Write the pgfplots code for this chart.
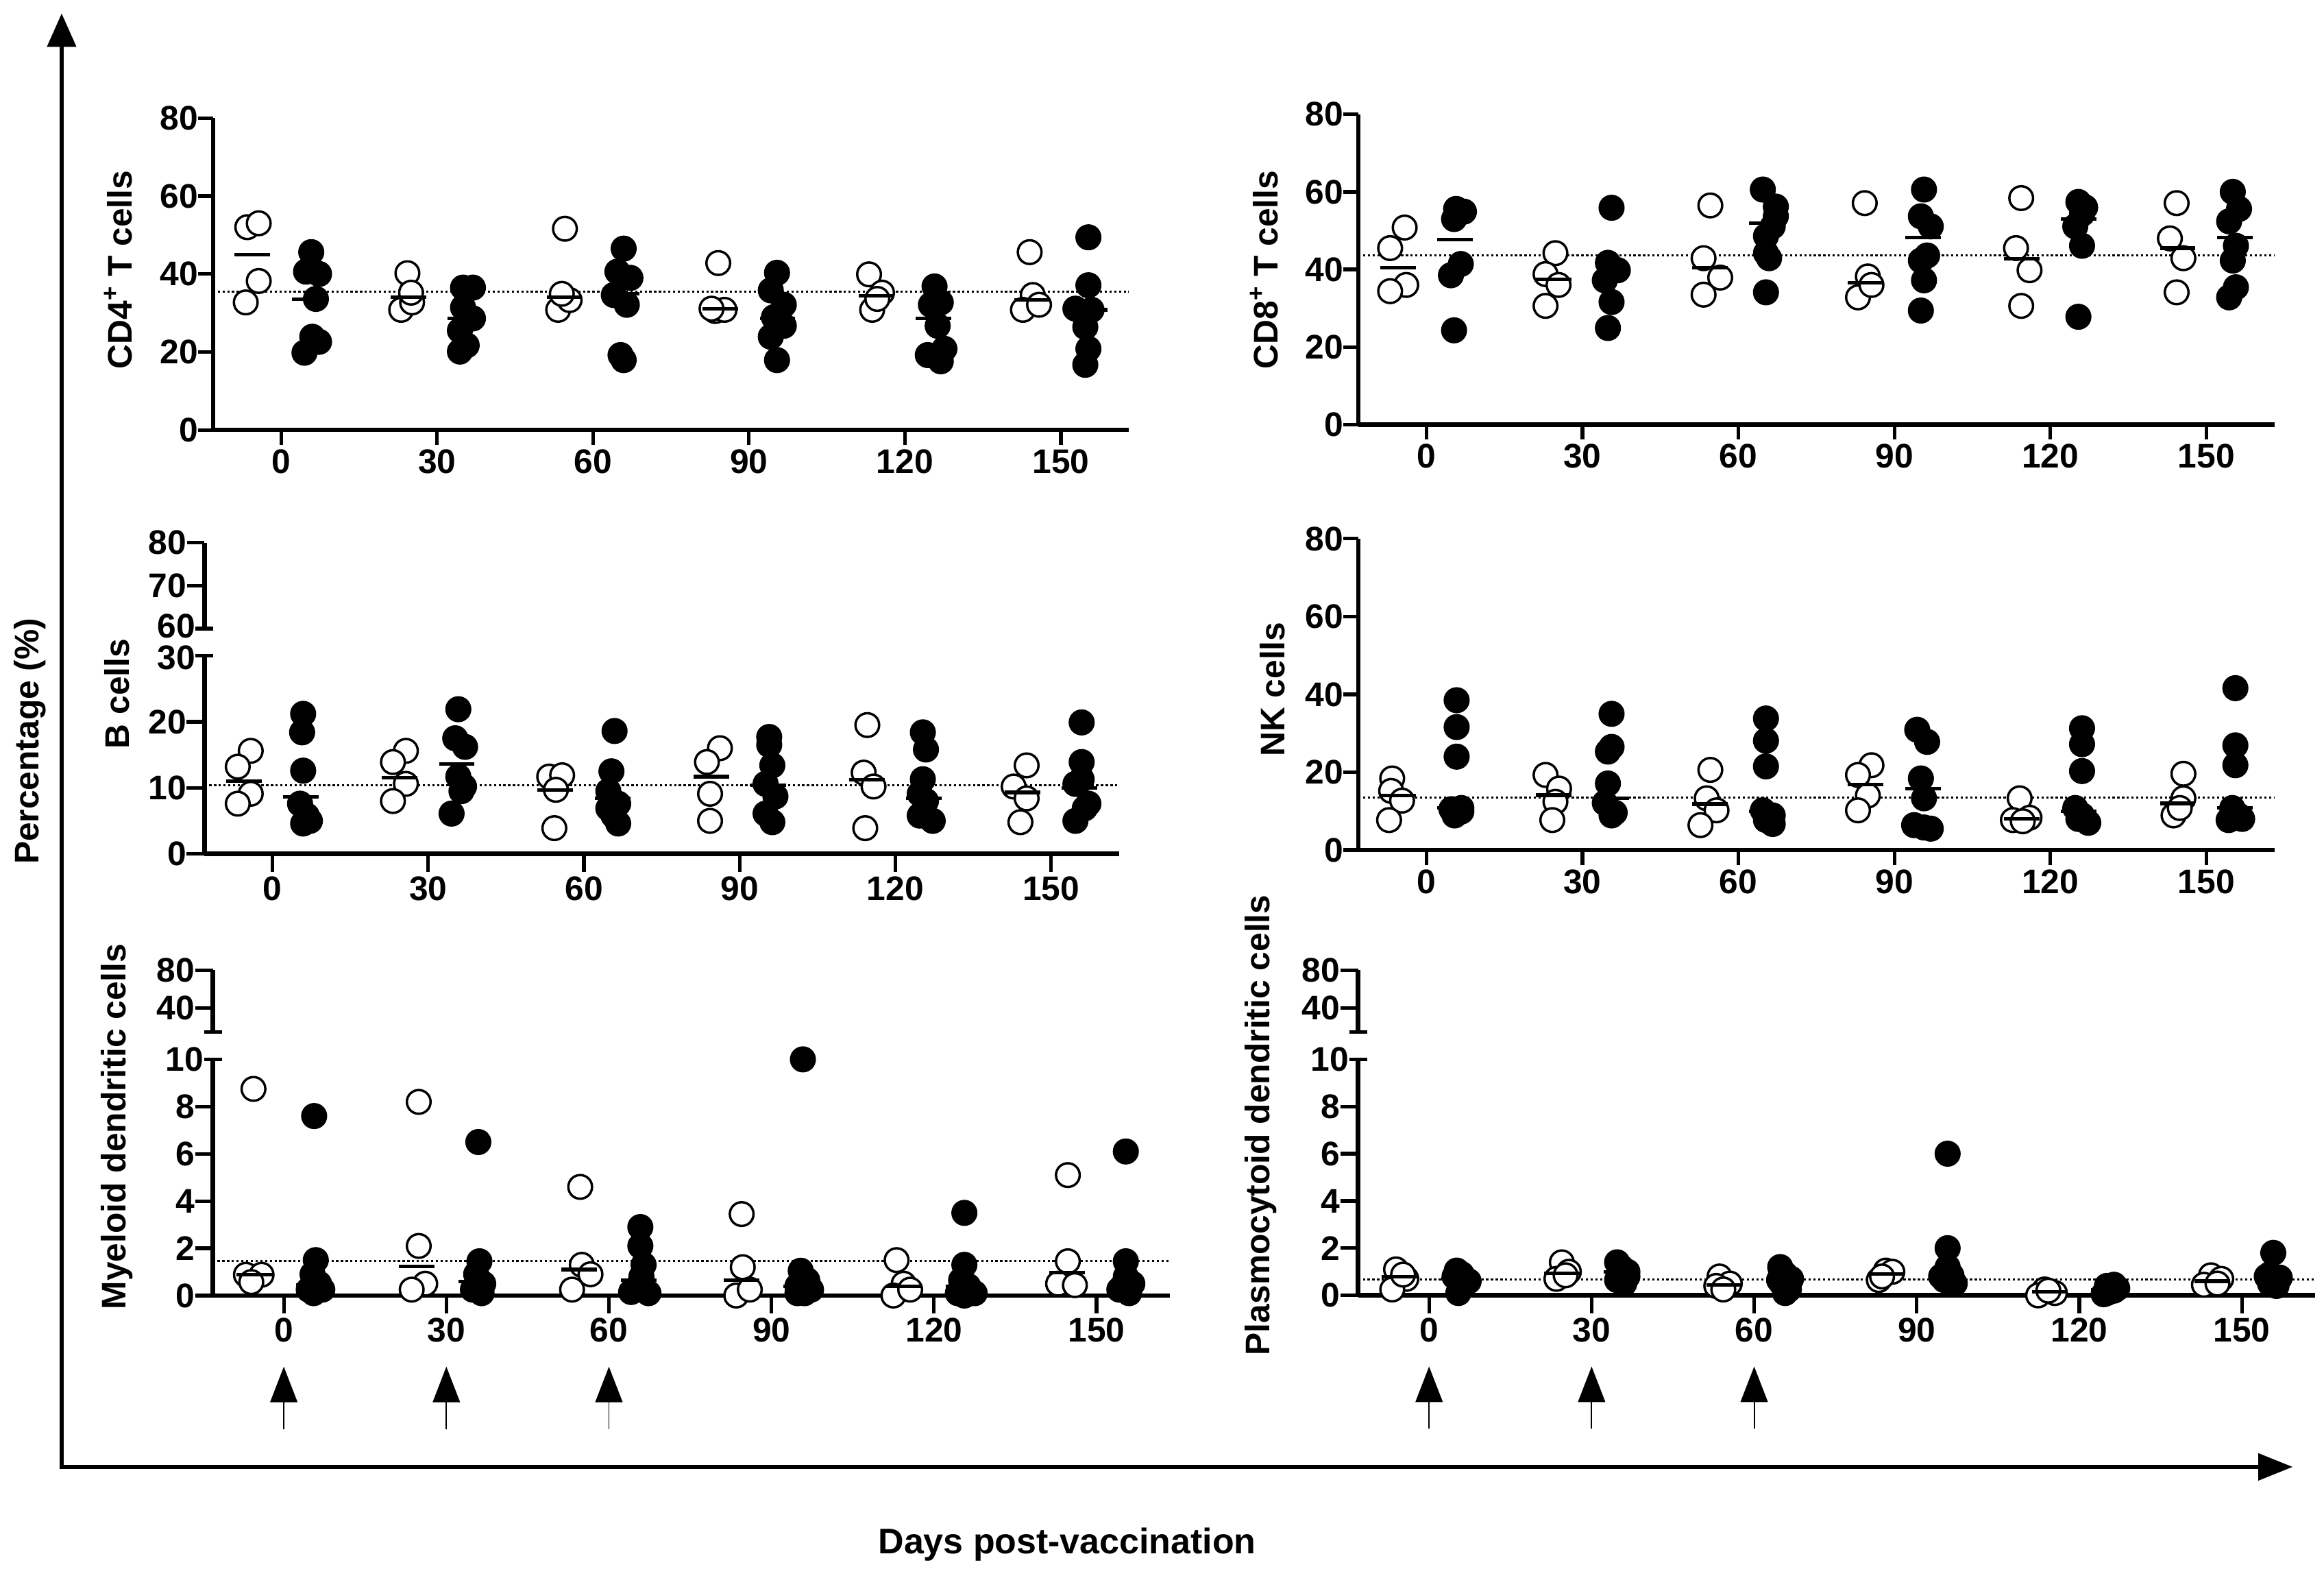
\documentclass[border=0pt]{standalone}
\usepackage{fontspec}
\setmainfont{Liberation Sans}
\usepackage{pgfplots}
\pgfplotsset{compat=1.18}
\newcommand\tfont{\fontsize{23}{26}\selectfont\bfseries}
\newcommand\lfont{\fontsize{23}{26}\selectfont\bfseries}
\pgfplotsset{
 gp/.style={
  scale only axis, clip=false, anchor=south west,
  axis x line*=bottom, axis y line*=left,
  axis line style={-, line width=3pt, black},
  tick style={line width=2.4pt, black},
  major tick length=10pt, tick align=outside,
  tick label style={font=\tfont},
  /pgf/number format/assume math mode=true,
  xmin=-13.1, xmax=163.1,
  xtick={0,30,60,90,120,150},
  xticklabel style={anchor=north, inner sep=0pt, yshift=-3pt},
  yticklabel style={anchor=east, inner sep=0pt},
  extra y tick style={tick align=center, major tick length=12pt},
 },
 up/.style={
  scale only axis, clip=false, anchor=south west,
  hide x axis, axis y line*=left,
  axis line style={-, line width=3pt, black},
  tick style={line width=2.4pt, black},
  major tick length=12pt, tick align=outside,
  tick label style={font=\tfont},
  /pgf/number format/assume math mode=true,
  xmin=0, xmax=1,
  yticklabel style={anchor=east, inner sep=0pt},
  extra y tick style={tick align=center, major tick length=12pt},
 },
 wpt/.style={only marks, mark=*, mark size=8pt, mark options={fill=white, draw=black, line width=1.6pt}},
 bpt/.style={only marks, mark=*, mark size=8pt, mark options={fill=black, draw=black, line width=1.6pt}},
 med/.style={only marks, mark=-, mark size=12pt, mark options={line width=2.4pt, draw=black}},
 refl/.style={black, line width=1.5pt, dash pattern=on 1.5pt off 1.7pt},
}
\newcommand\vacarrow[1]{%
 \fill ([yshift=-48pt]axis cs:#1,0) -- ++(-9.3pt,-24pt) -- ++(18.6pt,0pt) -- cycle;
 \draw[line width=0.9pt] ([yshift=-70pt]axis cs:#1,0) -- ([yshift=-90pt]axis cs:#1,0);}
\begin{document}
\begin{tikzpicture}
\useasboundingbox (0,0) rectangle (1568pt,-1064pt);
% big frame arrows
\draw[line width=2.7pt] (41.6pt,-989.5pt) -- (41.6pt,-30pt);
\fill (41.6pt,-9.2pt) -- (31.6pt,-31.6pt) -- (51.6pt,-31.6pt) -- cycle;
\draw[line width=2.7pt] (40.3pt,-989.5pt) -- (1525pt,-989.5pt);
\fill (1546.7pt,-989.5pt) -- (1523.6pt,-980.2pt) -- (1523.6pt,-998.8pt) -- cycle;
\node[rotate=90, anchor=base, font=\lfont] at (26pt,-500pt) {Percentage (\%)};
\node[anchor=base, font=\fontsize{24}{27}\selectfont\bfseries] at (720pt,-1048pt) {Days post-vaccination};

% ---------------- A: CD4
\begin{axis}[gp, at={(143.7pt,-290pt)}, width=618pt, height=210.4pt, ymin=0, ymax=80, ytick={0,20,40,60,80}]
\addplot[refl] coordinates {(-13.1,35.5) (163.1,35.5)};
\addplot[wpt] coordinates {(-6.5,52) (-4.3,53) (-4.3,38.2) (-6.8,32.7)
 (24.3,40.2) (23.1,30.8) (25.2,32.7) (25,35.2)
 (54.6,51.6) (53.3,30.8) (55.5,33.3) (54,34.9)
 (84.1,42.8) (83.5,30.5) (85.3,30.8) (82.8,31.1)
 (113.1,39.9) (115.6,35.2) (113.7,30.8) (114.7,33.6)
 (144,45.6) (144.6,34.6) (142.7,30.8) (145.8,32.1)};
\addplot[bpt] coordinates {(5.8,45.6) (4.8,40.6) (7.3,40) (6.7,33.6) (6,23.9) (7.3,22.6) (4.5,19.8)
 (35,36.5) (36.9,36.5) (35,31.4) (36.9,28.6) (34.4,25.5) (35.7,21.7) (34.4,20.1)
 (65.9,46.5) (64.7,40.6) (67.2,39) (64,34.6) (66.5,32.1) (65.3,19.2) (65.9,17.9)
 (95.4,40.3) (94.2,35.8) (96.7,32.1) (94.8,28.9) (96.7,26.7) (94.2,23.9) (95.4,17.9)
 (125.7,36.8) (126.9,32.7) (125,32.1) (126.3,26.7) (127.6,20.8) (124.4,19.2) (126.9,17.6)
 (155.3,49.4) (155.3,37.1) (155.9,30.8) (152.8,31.1) (154.7,26.4) (155.3,20.8) (154.7,16.7)};
\addplot[med] coordinates {(-5.5,45) (24.5,34) (54.5,34.1) (84.5,31) (114.5,34.4) (144.5,33.3)
 (5.5,33.5) (35.5,28.6) (65.5,35) (95.5,28.6) (125.5,28.6) (155.5,30.8)};
\end{axis}
\node[rotate=90, anchor=base, font=\lfont] at (89pt,-182pt) {CD4\textsuperscript{+} T cells};

% ---------------- B: CD8
\begin{axis}[gp, at={(916.5pt,-286.4pt)}, width=618pt, height=209.3pt, ymin=0, ymax=80, ytick={0,20,40,60,80}]
\addplot[refl] coordinates {(-13.1,43.6) (163.1,43.6)};
\addplot[wpt] coordinates {(-4.2,50.8) (-7,45.5) (-3.9,36) (-7,34.4)
 (24.8,44.2) (22.9,38.8) (25.4,36) (22.9,30.6)
 (54.6,56.5) (53.3,42.9) (56.5,37.9) (53.3,33.5)
 (84.3,57.1) (84.9,38.2) (83,32.8) (85.6,36)
 (114.4,58.4) (113.4,45.5) (116,39.8) (114.4,30.6)
 (144.3,57.1) (143,48) (145.6,42.9) (144.3,34.1)};
\addplot[bpt] coordinates {(5.7,55.6) (7.2,54.9) (5.3,53) (6.6,41.4) (4.7,38.5) (5.3,24.3)
 (35.6,55.9) (34.9,41.7) (36.8,39.8) (34.3,37.2) (35.6,31.6) (34.9,24.9)
 (64.7,60.6) (67.2,56.2) (67.2,53.7) (66.6,51.1) (65.3,48.6) (65.3,44.2) (65.9,42.9) (65.3,34.1)
 (95.7,60.6) (95.1,53.7) (97,51.1) (96.3,43.6) (95.1,42.3) (95.7,37.2) (95.1,29.4)
 (125.4,57.4) (126.1,54.3) (124.8,51.1) (126.1,46.1) (125.4,27.8) (126.7,56)
 (155.1,60) (156.3,55.6) (154.4,52.4) (155.7,46.1) (155.1,42.3) (155.7,35.4) (154.4,32.8)};
\addplot[med] coordinates {(-5.5,40.4) (24.5,37.4) (54.5,40.4) (84.5,36.6) (114.5,42.7) (144.5,45.5)
 (5.5,47.7) (35.5,38.5) (65.5,51.9) (95.5,48.3) (125.5,53) (155.5,48.3)};
\end{axis}
\node[rotate=90, anchor=base, font=\lfont] at (862pt,-182pt) {CD8\textsuperscript{+} T cells};

% ---------------- C: B cells
\begin{axis}[up, at={(138pt,-424pt)}, width=617pt, height=58pt, ymin=60, ymax=80, ytick={70,80}, extra y ticks={60}, extra y tick style={tick label style={yshift=1.5pt}}]
\addplot[draw=none] coordinates {(0.5,70)};
\end{axis}
\begin{axis}[gp, at={(138pt,-576pt)}, width=617pt, height=133.7pt, ymin=0, ymax=30, ytick={0,10,20}, extra y ticks={30}, extra y tick style={tick label style={yshift=-1.5pt}}, major tick length=12pt]
\addplot[refl] coordinates {(-13.1,10.4) (163.1,10.4)};
\addplot[wpt] coordinates {(-4.2,15.6) (-6.7,13.2) (-4.2,9.1) (-6.7,7.6)
 (25.7,15.6) (23.2,13.9) (25.7,10.6) (23.2,8)
 (53.3,11.7) (55.8,11.9) (54.6,9.7) (54.3,3.9)
 (86.2,16) (83.7,13.9) (84.3,9.1) (84.3,5)
 (114.6,19.5) (113.9,12.3) (115.8,10.2) (114.2,3.9)
 (145.3,13.4) (142.8,10.2) (145.3,8.4) (144.1,4.8)};
\addplot[bpt] coordinates {(5.9,21.2) (5.7,18.4) (5.9,12.6) (5.3,7.6) (6.6,5.8) (5.9,4.6) (7.2,5)
 (35.8,21.9) (35.2,17.5) (37.1,16.2) (35.8,11.7) (36.4,9.5) (34.5,6.1) (36.9,10.2)
 (65.9,18.6) (65.3,12.5) (64.7,9.5) (66.6,7.6) (64.7,6.9) (66.6,4.6) (65.7,5.8)
 (95.7,17.7) (95.7,16.5) (96.3,13.4) (95,10.6) (96.9,8.7) (95,6.1) (96.3,4.8)
 (125.3,18.4) (125.9,15.8) (125.3,11.3) (124.7,9.1) (125.9,8) (124.7,5.8) (127.2,5)
 (155.9,19.9) (155.9,13.9) (155.9,11.3) (154.7,10.6) (157.2,7.6) (154.7,5) (156.5,6.9)};
\addplot[med] coordinates {(-5.5,11) (24.5,11.5) (54.5,9.7) (84.5,11.7) (114.5,11.2) (144.5,9.3)
 (5.5,8.6) (35.5,13.6) (65.5,8.4) (95.5,10.4) (125.5,8.4) (155.5,10)};
\end{axis}
\node[rotate=90, anchor=base, font=\lfont] at (87pt,-468pt) {B cells};

% ---------------- D: NK cells
\begin{axis}[gp, at={(916.5pt,-573.4pt)}, width=618pt, height=210pt, ymin=0, ymax=80, ytick={0,20,40,60,80}]
\addplot[refl] coordinates {(-13.1,13.5) (163.1,13.5)};
\addplot[wpt] coordinates {(-6.6,18.4) (-6.8,15.2) (-4.7,12.7) (-7.2,7.7)
 (22.9,19.3) (25.5,15.8) (24.8,12.4) (24.2,7.7)
 (54.6,20.6) (53.9,13.3) (55.8,10.2) (52.7,6.4)
 (85.6,21.8) (83,19.3) (84.9,14) (83,10.2)
 (114.1,13.3) (112.8,7.7) (116,8.3) (114.7,7.4)
 (145.6,19.6) (145.6,13.3) (143.7,8.9) (144.9,10.8)};
\addplot[bpt] coordinates {(5.8,38.5) (5.8,31.6) (5.8,24) (4.8,10.5) (6.7,9.9) (5.4,8.9) (6.7,10.8)
 (35.6,35) (35.6,26.5) (34.9,25.3) (34.9,17.1) (34.3,12.1) (36.2,9.6) (35.6,8.9)
 (65.3,33.8) (65.3,28.1) (65.3,21.5) (64.7,10.2) (66.6,8.9) (66.6,6.7) (65.3,7.7)
 (94.4,30.9) (96.3,27.8) (95.1,18.4) (95.7,13.3) (93.8,6.4) (95.7,5.8) (97,5.5)
 (126.1,31.3) (126.1,27.2) (126.1,20.3) (124.8,10.8) (126.1,8.9) (127.3,7) (125.4,8)
 (155.6,41.6) (155.6,26.9) (155.6,21.8) (155,10.8) (156.2,8.9) (154.3,7.7) (156.9,8)};
\addplot[med] coordinates {(-5.5,14) (24.5,14.1) (54.5,11.8) (84.5,16.8) (114.5,8) (144.5,12)
 (5.5,10.8) (35.5,13.3) (65.5,9.9) (95.5,15.8) (125.5,9.9) (155.5,10.8)};
\end{axis}
\node[rotate=90, anchor=base, font=\lfont] at (866.6pt,-465pt) {NK cells};

% ---------------- E: Myeloid DC
\begin{axis}[up, at={(143.6pt,-696pt)}, width=645.6pt, height=41.5pt, ymin=15, ymax=80, ytick={40,80}, extra y ticks={15}, extra y tick labels={}]
\addplot[draw=none] coordinates {(0.5,40)};
\end{axis}
\begin{axis}[gp, at={(143.6pt,-873.9pt)}, width=645.6pt, height=159.3pt, xmax=163.5, ymin=0, ymax=10, ytick={0,2,4,6,8}, extra y ticks={10}, major tick length=12pt]
\addplot[refl] coordinates {(-13.1,1.47) (163.5,1.47)};
\addplot[wpt] coordinates {(-5.6,8.75) (-7,0.88) (-4.1,0.88) (-6,0.57)
 (24.9,8.2) (24.9,2.1) (26.1,0.5) (23.6,0.25)
 (54.7,4.6) (55,1.3) (56.6,0.9) (53.2,0.25)
 (84.5,3.45) (84.7,1.2) (83.5,0) (86,0.25)
 (113.1,1.5) (114.4,0.5) (112.5,0) (115.6,0.25)
 (144.7,5.1) (144.7,1.45) (142.9,0.5) (146,0.44)};
\addplot[bpt] coordinates {(5.6,7.6) (5.9,1.5) (5.3,0.9) (6.5,0.5) (4.6,0.25) (7.1,0.25) (5.5,0.1)
 (35.9,6.5) (36.1,1.45) (35.5,0.9) (36.8,0.5) (34.9,0.25) (36.5,0.1) (35.5,0.37)
 (65.8,2.9) (65.8,2.1) (66.4,1.3) (66,0.8) (65.4,0.4) (67.3,0.1) (64.1,0.15)
 (95.8,10) (95.4,1.05) (96.6,0.65) (94.8,0.4) (97.3,0.25) (96.1,0.1) (94.8,0.1)
 (125.6,3.5) (125.6,1.3) (125,0.65) (126.3,0.4) (124.4,0.1) (127.5,0.1) (125.6,0)
 (155.4,6.1) (155.4,1.45) (155.4,0.8) (154.8,0.4) (156,0.1) (154.2,0.25) (156.6,0.5)};
\addplot[med] coordinates {(-5.5,0.88) (24.5,1.24) (54.5,1.1) (84.5,0.64) (114.5,0.38) (144.5,0.97)
 (5.5,0.44) (35.5,0.6) (65.5,0.64) (95.5,0.4) (125.5,0.4) (155.5,0.5)};
\vacarrow{0}
\vacarrow{30}
\vacarrow{60}
\end{axis}
\node[rotate=90, anchor=base, font=\lfont] at (85pt,-760pt) {Myeloid dendritic cells};

% ---------------- F: Plasmacytoid DC
\begin{axis}[up, at={(916.3pt,-696pt)}, width=645.6pt, height=41.5pt, ymin=15, ymax=80, ytick={40,80}, extra y ticks={15}, extra y tick labels={}]
\addplot[draw=none] coordinates {(0.5,40)};
\end{axis}
\begin{axis}[gp, at={(916.3pt,-873.8pt)}, width=645.6pt, height=159.3pt, xmax=163.5, ymin=0, ymax=10, ytick={0,2,4,6,8}, extra y ticks={10}, major tick length=12pt]
\addplot[refl] coordinates {(-13.1,0.67) (163.5,0.67)};
\addplot[wpt] coordinates {(-6.1,1.1) (-4.2,0.7) (-6.8,0.25) (-4.8,0.88)
 (24.5,1.4) (25.8,1) (23.5,0.7) (25.2,0.85)
 (53.6,0.8) (55.5,0.5) (53,0.4) (54.3,0.25)
 (84.3,1.05) (85.5,1) (83,0.65) (83.6,0.8)
 (113.6,0.25) (115.5,0.1) (112.4,0) (114.3,0.2)
 (144.3,0.85) (146.2,0.7) (143,0.45) (145.5,0.5)};
\addplot[bpt] coordinates {(5.1,1.05) (6.6,0.7) (6,0.4) (4.7,0.8) (5.4,0.1) (7.3,0.6) (6,0.9)
 (34.7,1.4) (35.4,1.05) (36.6,0.8) (34.7,0.65) (36,0.5) (35.4,1.2) (36.6,1)
 (64.8,1.2) (65.7,0.9) (65.1,0.5) (66.4,0.25) (64.6,0.65) (65.7,0.1) (66.8,0.7)
 (95.7,6) (95.7,2) (95.7,1.2) (96.4,0.85) (94.5,0.8) (97,0.5) (95.1,0.65)
 (125.1,0.4) (126.4,0.2) (124.5,0.05) (125.7,0.25) (127,0.3) (125.1,0.1) (126.4,0.45)
 (155.8,1.8) (155.2,0.9) (155.8,0.65) (156.4,0.4) (154.6,0.8) (157,0.75) (155.2,0.5)};
\addplot[med] coordinates {(-5.5,0.79) (24.5,0.93) (54.5,0.45) (84.5,0.9) (114.5,0.15) (144.5,0.6)
 (5.5,0.7) (35.5,1.0) (65.5,0.65) (95.5,0.85) (125.5,0.25) (155.5,0.75)};
\vacarrow{0}
\vacarrow{30}
\vacarrow{60}
\end{axis}
\node[rotate=90, anchor=base, font=\lfont] at (856.6pt,-759pt) {Plasmocytoid dendritic cells};
\end{tikzpicture}
\end{document}
